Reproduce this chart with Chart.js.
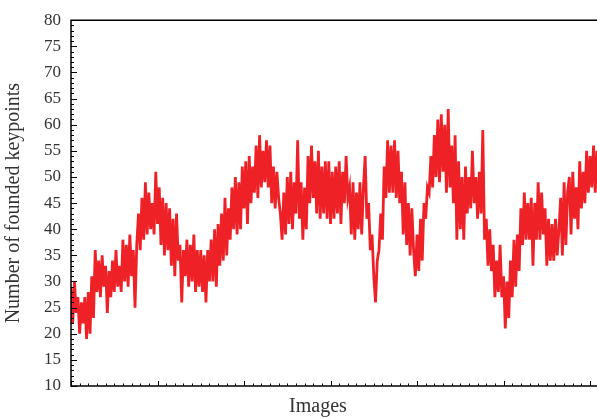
<!DOCTYPE html>
<html>
<head>
<meta charset="utf-8">
<script src="https://cdn.jsdelivr.net/npm/chart.js@4.4.1/dist/chart.umd.min.js"></script>
<style>
html,body{margin:0;padding:0;background:#fff;}
canvas{display:block;}
</style>
</head>
<body>
<canvas id="c" width="597" height="419"></canvas>
<script>
// ---- data ----
const imagesPerSample = 10;
const keypoints = [
29,22,30,24,27,20,26,22,27,19,28,20,
31,23,
36,28,34,27,35,29,
33,24,32,27,
34,28,36,29,33,28,
38,30,37,29,39,31,
36,25,37,
43,36,46,38,49,39,
47,40,45,39,51,41,
48,37,46,35,45,36,
44,33,42,31,43,
34,37,26,36,
31,38,29,37,30,39,28,36,29,
36,28,35,26,36,30,
38,30,40,29,41,33,
43,34,46,35,44,38,
48,40,50,39,49,40,52,
44,53,41,54,45,52,
47,56,46,58,48,55,
49,57,48,56,
45,52,44,51,46,
43,38,47,39,
50,41,51,40,49,43,57,42,
49,38,48,40,
54,45,56,46,53,
43,55,42,52,43,53,42,
53,41,51,42,52,43,53,41,51,
45,54,46,
48,39,49,38,47,40,49,39,48,
54,42,
45,36,
39,31,
26,34,
36,43,38,
52,46,57,47,
56,47,57,46,
55,45,51,
39,49,37,
45,35,44,
36,31,39,
32,42,34,
45,42,48,
47,54,48,
58,50,61,49,62,51,
60,47,63,48,
56,45,58,38,53,
40,50,38,
52,43,50,
44,55,45,
50,42,51,43,59,
38,42,33,40,
32,37,27,34,
28,37,27,
31,21,30,
23,34,27,
38,29,39,32,
44,37,47,38,45,
38,46,33,45,38,
49,38,47,39,
44,33,42,34,
41,34,42,35,40,
46,35,49,37,47,
50,39,51,42,48,40,
53,44,51,45,
55,47,54,48,56,47,55
];
const yTickLabels = [10,15,20,25,30,35,40,45,50,55,60,65,70,75,80];
const xMajorStep = 500;
const xMinorStep = 50;
const xMax = 3040;
const xTitle = 'Images';
const yTitle = 'Number of founded keypoints';

const points = keypoints.map((v, i) => ({x: i * imagesPerSample, y: v}));

const frameTicks = {
  id: 'frameTicks',
  afterDraw(chart) {
    const {ctx, chartArea: a, scales} = chart;
    const xs = scales.x, ys = scales.y;
    ctx.save();
    ctx.strokeStyle = '#000';
    ctx.lineWidth = 1.5;
    ctx.beginPath();
    ctx.moveTo(a.right + 2, a.top); ctx.lineTo(a.left, a.top);
    ctx.lineTo(a.left, a.bottom); ctx.lineTo(a.right + 2, a.bottom);
    ctx.stroke();
    ctx.lineWidth = 1;
    ctx.beginPath();
    for (let v = 10; v <= 80; v += 1) {
      const y = Math.round(ys.getPixelForValue(v)) + 0.5;
      const len = (v % 5 === 0) ? 6 : 3;
      ctx.moveTo(a.left, y); ctx.lineTo(a.left + len, y);
    }
    for (let v = 0; v <= xMax; v += xMinorStep) {
      const x = Math.round(xs.getPixelForValue(v)) + 0.5;
      const len = (v % xMajorStep === 0) ? 5 : 2.5;
      ctx.moveTo(x, a.bottom); ctx.lineTo(x, a.bottom - len);
    }
    ctx.stroke();
    ctx.fillStyle = '#333';
    ctx.font = '20px "Liberation Serif"';
    ctx.textAlign = 'center';
    ctx.textBaseline = 'alphabetic';
    ctx.fillText(xTitle, 318, 412);
    ctx.restore();
  }
};

new Chart(document.getElementById('c'), {
  type: 'line',
  data: {
    datasets: [{
      data: points,
      borderColor: '#ee2226',
      borderWidth: 2.8,
      borderJoinStyle: 'miter',
      pointRadius: 0,
      tension: 0,
      fill: false
    }]
  },
  options: {
    responsive: false,
    animation: false,
    devicePixelRatio: 1,
    layout: {padding: {top: 15, right: 0, left: 0, bottom: 0}},
    plugins: {legend: {display: false}, tooltip: {enabled: false}},
    scales: {
      x: {
        type: 'linear',
        min: 0, max: xMax,
        grid: {display: false, drawTicks: false},
        border: {display: false},
        ticks: {display: false},
        title: {display: false, text: xTitle},
        afterFit: s => { s.height = 33; }
      },
      y: {
        type: 'linear',
        min: 10, max: 80,
        afterBuildTicks: s => { s.ticks = yTickLabels.map(v => ({value: v})); },
        grid: {display: false, drawTicks: false},
        border: {display: false},
        ticks: {
          color: '#333',
          padding: 10,
          font: {family: 'Liberation Serif', size: 17}
        },
        title: {
          display: true,
          text: yTitle,
          color: '#333',
          font: {family: 'Liberation Serif', size: 20},
          padding: {top: 2, bottom: 0}
        },
        afterFit: s => { s.width = 71; }
      }
    }
  },
  plugins: [frameTicks]
});
</script>
</body>
</html>
